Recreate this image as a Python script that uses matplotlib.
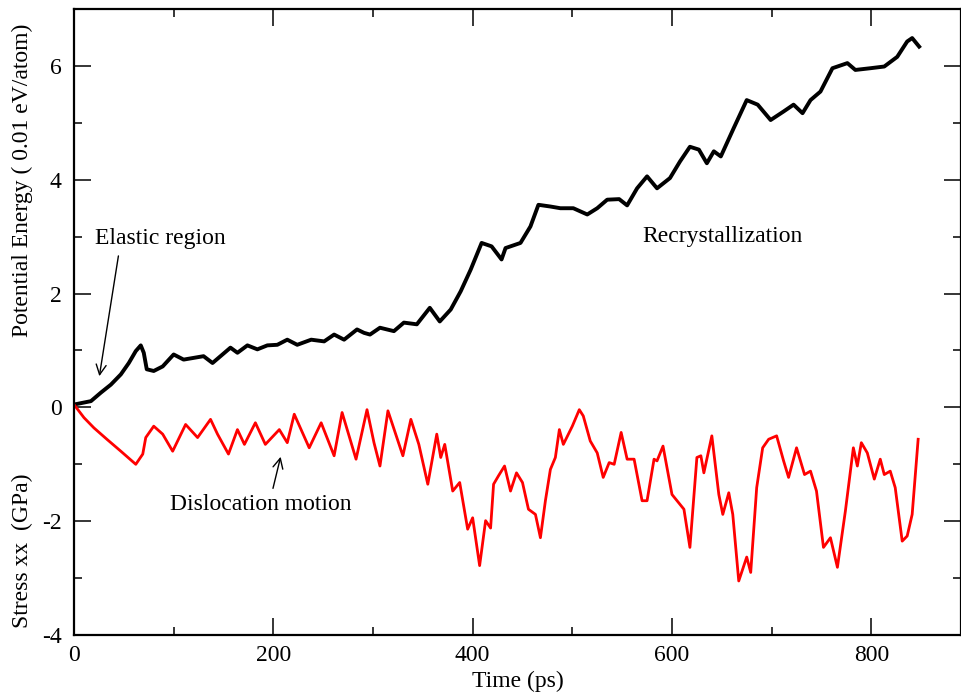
#!/usr/bin/env python3
"""
Potential energy and stress vs. time (MD deformation run).
"""
import matplotlib
matplotlib.use("Agg")
import matplotlib.pyplot as plt
from matplotlib.ticker import MultipleLocator

# Potential energy (0.01 eV/atom)
energy_time = [0, 17, 27, 37, 47, 55, 62, 67, 70, 73, 80, 89, 100, 110, 120, 130,
               139, 147, 157, 164, 174, 184, 194, 204, 214, 224, 238, 251, 261,
               271, 284, 291, 297, 307, 321, 331, 344, 357, 367, 378, 388, 398,
               409, 419, 429, 433, 448, 458, 466, 478, 488, 501, 515, 525, 535,
               547, 555, 565, 575, 585, 598, 608, 618, 627, 635, 642, 649, 662,
               675, 686, 699, 712, 722, 731, 739, 749, 761, 776, 784, 799, 813,
               826, 836, 841, 848]
energy = [0.05, 0.11, 0.26, 0.40, 0.58, 0.78, 0.99, 1.09, 0.96, 0.67, 0.64, 0.72,
          0.93, 0.84, 0.87, 0.90, 0.78, 0.90, 1.05, 0.96, 1.09, 1.02, 1.09, 1.10,
          1.19, 1.10, 1.19, 1.16, 1.28, 1.19, 1.37, 1.31, 1.28, 1.40, 1.34, 1.49,
          1.46, 1.75, 1.51, 1.72, 2.04, 2.42, 2.89, 2.83, 2.60, 2.80, 2.89, 3.18,
          3.56, 3.53, 3.50, 3.50, 3.39, 3.50, 3.65, 3.66, 3.55, 3.85, 4.06, 3.85,
          4.03, 4.32, 4.58, 4.53, 4.29, 4.50, 4.41, 4.91, 5.40, 5.32, 5.05, 5.20,
          5.32, 5.17, 5.40, 5.55, 5.96, 6.05, 5.93, 5.96, 5.99, 6.16, 6.43, 6.49,
          6.34]

# Stress xx (GPa)
stress_time = [0, 10, 20, 33, 47, 62, 69, 72, 80, 89, 99, 112, 124, 137, 144,
               155, 164, 171, 182, 192, 206, 214, 221, 236, 248, 261, 269, 283,
               294, 301, 307, 315, 330, 338, 346, 355, 364, 368, 372, 380, 387,
               395, 400, 407, 413, 418, 421, 426, 432, 438, 444, 450, 456, 463,
               468, 473, 478, 483, 487, 491, 500, 507, 511, 518, 525, 531, 537,
               542, 549, 555, 562, 570, 575, 582, 585, 591, 600, 612, 618, 625,
               629, 632, 640, 647, 651, 657, 661, 667, 675, 679, 685, 691, 697,
               705, 712, 717, 725, 733, 739, 745, 752, 759, 766, 774, 782, 786,
               790, 796, 803, 809, 813, 819, 824, 831, 836, 841, 847]
stress = [0.05, -0.18, -0.36, -0.56, -0.77, -1.00, -0.82, -0.53, -0.33, -0.47,
          -0.77, -0.30, -0.53, -0.21, -0.47, -0.82, -0.39, -0.65, -0.27, -0.65,
          -0.39, -0.62, -0.12, -0.71, -0.27, -0.85, -0.09, -0.91, -0.04, -0.62,
          -1.03, -0.06, -0.85, -0.21, -0.65, -1.35, -0.47, -0.88, -0.65, -1.47,
          -1.32, -2.14, -1.94, -2.78, -1.99, -2.12, -1.35, -1.20, -1.03, -1.47,
          -1.15, -1.32, -1.79, -1.88, -2.29, -1.64, -1.09, -0.88, -0.39, -0.65,
          -0.33, -0.04, -0.15, -0.59, -0.80, -1.23, -0.97, -1.00, -0.44, -0.91,
          -0.91, -1.64, -1.64, -0.91, -0.94, -0.68, -1.53, -1.79, -2.46, -0.88,
          -0.85, -1.15, -0.50, -1.53, -1.88, -1.50, -1.88, -3.05, -2.63, -2.90,
          -1.41, -0.71, -0.56, -0.50, -0.94, -1.23, -0.71, -1.18, -1.12, -1.47,
          -2.46, -2.29, -2.81, -1.82, -0.71, -1.03, -0.62, -0.80, -1.26, -0.91,
          -1.18, -1.12, -1.41, -2.35, -2.26, -1.88, -0.56]

plt.rcParams['font.family'] = ['Liberation Serif', 'DejaVu Serif']
plt.rcParams['axes.unicode_minus'] = False

fig = plt.figure(figsize=(9.61, 6.96), dpi=100, facecolor='white')
ax = fig.add_axes([0.0770, 0.0876, 0.9230, 0.8994])

ax.plot(energy_time, energy, color='black', linewidth=2.8, solid_joinstyle='round')
ax.plot(stress_time, stress, color='#ff0000', linewidth=2.0, solid_joinstyle='round')

ax.set_xlim(0, 890)
ax.set_ylim(-4, 7)
ax.xaxis.set_major_locator(MultipleLocator(200))
ax.xaxis.set_minor_locator(MultipleLocator(100))
ax.yaxis.set_major_locator(MultipleLocator(2))
ax.yaxis.set_minor_locator(MultipleLocator(1))

ax.tick_params(which='both', direction='in', top=True, right=True,
               width=1.1, labelsize=17, color='black')
ax.tick_params(which='major', length=12)
ax.tick_params(which='minor', length=6)
ax.tick_params(axis='y', pad=9)
ax.tick_params(axis='x', pad=7)
for spine in ax.spines.values():
    spine.set_linewidth(1.6)

ax.set_xlabel('Time (ps)', fontsize=17, labelpad=4)

# two y labels, one for each curve
fig.text(0.023, 0.741, 'Potential Energy ( 0.01 eV/atom)', rotation=90,
         ha='center', va='center', fontsize=17)
fig.text(0.023, 0.208, 'Stress xx  (GPa)', rotation=90,
         ha='center', va='center', fontsize=17)

# annotations
ax.text(21, 2.96, 'Elastic region', fontsize=17, ha='left', va='center')
ax.annotate('', xy=(25, 0.50), xytext=(45, 2.71),
            arrowprops=dict(arrowstyle='->', color='black', lw=1.0,
                            mutation_scale=18))
ax.text(570, 3.0, 'Recrystallization', fontsize=17, ha='left', va='center')
ax.text(96, -1.70, 'Dislocation motion', fontsize=17, ha='left', va='center')
ax.annotate('', xy=(208, -0.82), xytext=(199, -1.47),
            arrowprops=dict(arrowstyle='->', color='black', lw=1.0,
                            mutation_scale=18))

fig.savefig('out.png', dpi=100, facecolor='white')
plt.close(fig)
